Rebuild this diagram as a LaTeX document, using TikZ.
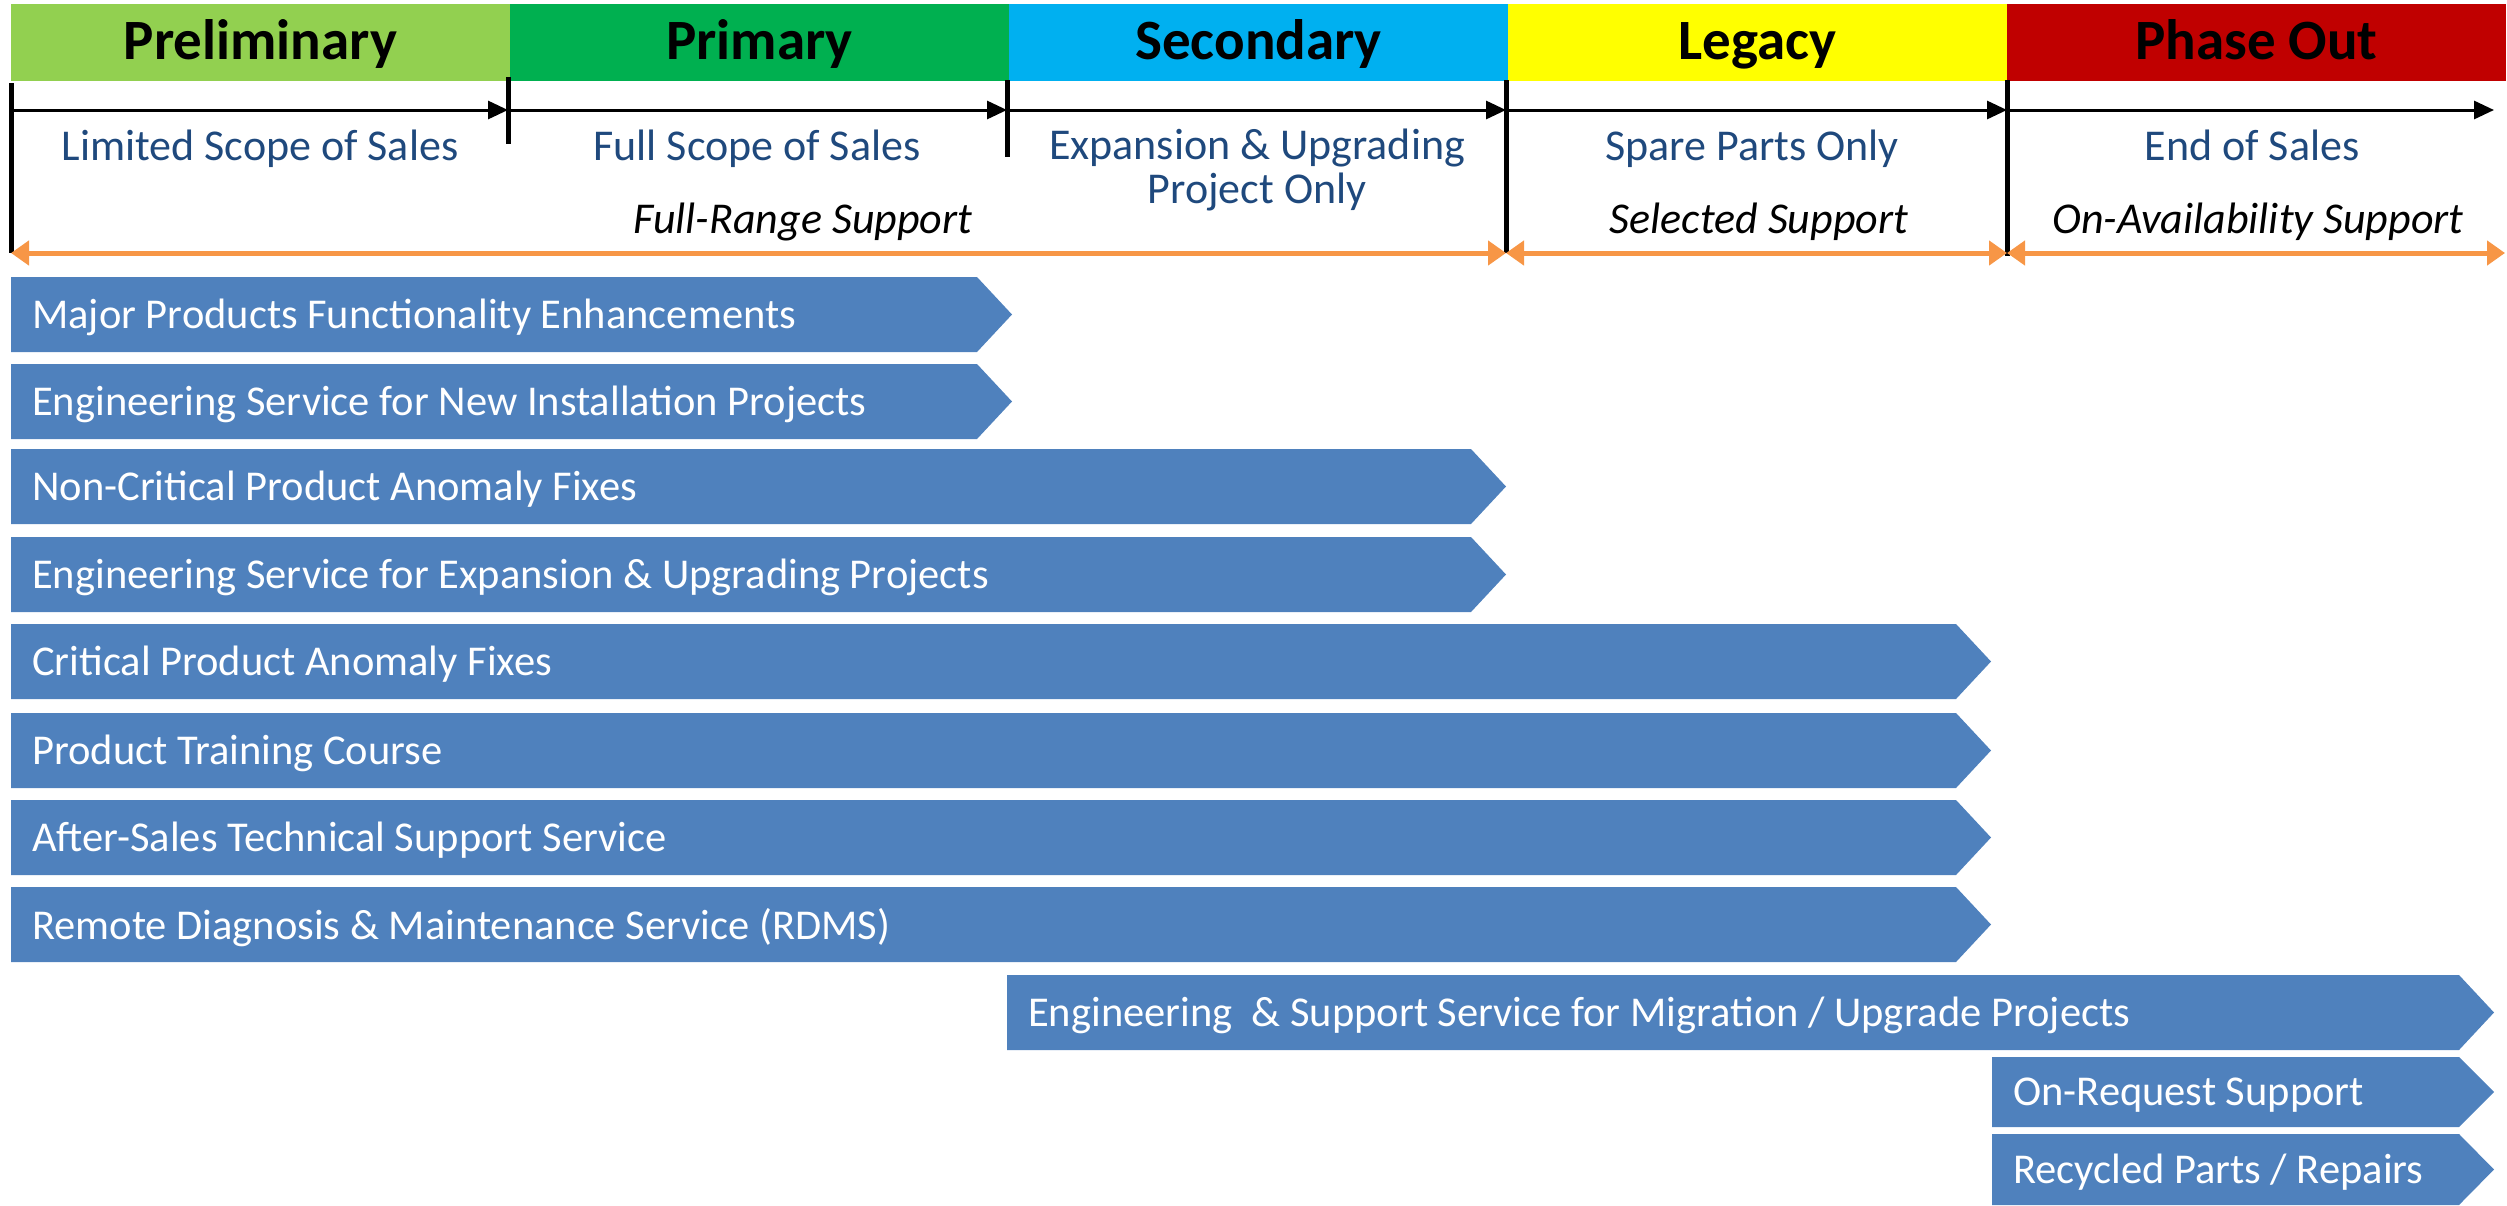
\documentclass[tikz,border=0pt]{standalone}
\usepackage{fontspec}
\setmainfont{Carlito}
\usetikzlibrary{arrows.meta}
\definecolor{barblue}{RGB}{79,129,189}
\definecolor{txtblue}{RGB}{31,73,125}
\definecolor{supporange}{RGB}{247,150,70}
\definecolor{prelimgreen}{RGB}{146,208,80}
\definecolor{primgreen}{RGB}{0,176,80}
\definecolor{secblue}{RGB}{0,176,240}
\definecolor{legyellow}{RGB}{255,255,0}
\definecolor{outred}{RGB}{192,0,0}
\begin{document}
\begin{tikzpicture}[x=1pt,y=-1pt,line
			join=round,
			phasehead/.style={fill=#1,minimum width=499pt,minimum height=77pt,inner sep=0pt,
				text height=44pt,text depth=11pt,font=\fontsize{57}{60}\selectfont\bfseries},
			scopetext/.style={text=txtblue,align=center,inner sep=0pt,font=\fontsize{44}{44}\selectfont},
			supptext/.style={inner sep=0pt,font=\fontsize{44}{44}\selectfont\itshape},
			bartext/.style={text=white,anchor=west,inner sep=0pt,font=\fontsize{42.5}{44}\selectfont},
			phasetick/.style={line width=5pt},
			salesline/.style={line width=3pt,-{Triangle[length=20pt,width=18pt]}},
			suppline/.style={supporange,line width=5pt,
				{Triangle[length=18pt,width=24pt]}-{Triangle[length=18pt,width=24pt]}}]
			\useasboundingbox (0,0) rectangle (2507,1205);
			\def\tip{35}
			\def\pad{21}
			\foreach \name/\col/\txt [count=\i from 0] in {pre/prelimgreen/Preliminary,
				pri/primgreen/Primary,sec/secblue/Secondary,leg/legyellow/Legacy,out/outred/Phase Out}
				\node[phasehead=\col] (\name) at ({11+499*\i+249.5},42.5) {\txt};
			\coordinate (a0) at (11,110);
			\coordinate (a1) at (508,110);
			\coordinate (a2) at (1007,110);
			\coordinate (a3) at (1506,110);
			\coordinate (a4) at (2007,110);
			\coordinate (a5) at (2494,110);
			\foreach \p/\q in {a0/a1,a1/a2,a2/a3,a3/a4,a4/a5}
				\draw[salesline] (\p) -- (\q);
			\draw[phasetick] (11,83) -- (11,253)
				(508,77) -- (508,144)
				(1007,80) -- (1007,157)
				(1506,80) -- (1506,253)
				(2007,80) -- (2007,256);
			\node[scopetext] (lim) at (260,149) {Limited Scope of Sales};
			\node[scopetext] (full) at (757,149) {Full Scope of Sales};
			\node[scopetext] (exp) at (1257,170) {Expansion \& Upgrading\\Project Only};
			\node[scopetext] (spare) at (1752,149) {Spare Parts Only};
			\node[scopetext] (eos) at (2252,145) {End of Sales};
			\node[supptext] (fullsupp) at (803,222) {Full-Range Support};
			\node[supptext] (selsupp) at (1759,222) {Selected Support};
			\node[supptext] (availsupp) at (2258,222) {On-Availability Support};
			\coordinate (s0) at (11,253);
			\coordinate (s1) at (1506,253);
			\coordinate (s2) at (2007,253);
			\coordinate (s3) at (2505,253);
			\draw[suppline] (s0) -- (s1);
			\draw[suppline] (s1) -- (s2);
			\draw[suppline] (s2) -- (s3);
			\foreach \ya/\h/\xa/\xt/\txt [count=\i] in {
				277/75/11/1012/{Major Products Functionality Enhancements},
				364/75/11/1012/{Engineering Service for New Installation Projects},
				449/75/11/1506/{Non-Critical Product Anomaly Fixes},
				537/75/11/1506/{Engineering Service for Expansion \& Upgrading Projects},
				624/75/11/1991/{Critical Product Anomaly Fixes},
				713/75/11/1991/{Product Training Course},
				800/75/11/1991/{After-Sales Technical Support Service},
				887/75/11/1991/{Remote Diagnosis \& Maintenance Service (RDMS)},
				975/75/1007/2494/{Engineering\ \ \& Support Service for Migration / Upgrade Projects},
				1057/70/1992/2494/{On-Request Support},
				1134/71/1992/2494/{Recycled Parts / Repairs}}
			{
				\fill[barblue] (\xa,\ya) -- ({\xt-\tip},\ya) -- (\xt,{\ya+\h/2})
					-- ({\xt-\tip},{\ya+\h}) -- (\xa,{\ya+\h}) -- cycle;
				\node[bartext] (b\i) at ({\xa+\pad},{\ya+\h/2+3}) {\txt};
			}
	\end{tikzpicture}
\end{document}
